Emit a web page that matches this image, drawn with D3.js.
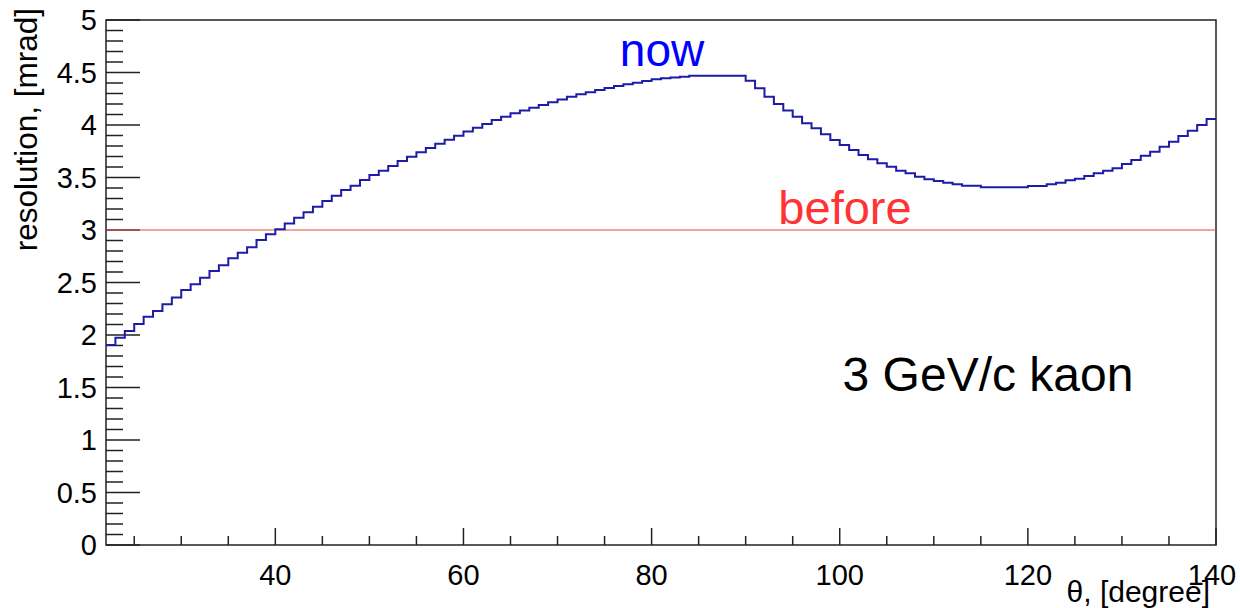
<!DOCTYPE html>
<html>
<head>
<meta charset="utf-8">
<script src="https://cdn.jsdelivr.net/npm/d3@7"></script>
<style>
  html, body { margin: 0; padding: 0; background: #fff; }
  svg text { font-family: "Liberation Sans", Arial, Helvetica, sans-serif; }
</style>
</head>
<body>
<div id="chart"></div>
<script>
// histogram: theta from 22 to 140 degree, 1 degree bins
const binEdges = d3.range(22, 141, 1);
const resolution = [
  1.905, 1.974, 2.038, 2.105, 2.175, 2.229, 2.292, 2.356, 2.429, 2.483,
  2.546, 2.610, 2.664, 2.730, 2.784, 2.835, 2.905, 2.959, 3.006, 3.063,
  3.117, 3.168, 3.222, 3.276, 3.327, 3.381, 3.422, 3.476, 3.524, 3.565,
  3.610, 3.657, 3.698, 3.740, 3.781, 3.822, 3.860, 3.898, 3.937, 3.975,
  4.010, 4.048, 4.079, 4.111, 4.137, 4.165, 4.190, 4.216, 4.244, 4.270,
  4.292, 4.311, 4.333, 4.352, 4.371, 4.387, 4.403, 4.419, 4.435, 4.445,
  4.452, 4.460, 4.470, 4.470, 4.470, 4.470, 4.470, 4.470, 4.422, 4.349,
  4.270, 4.200, 4.137, 4.079, 4.016, 3.968, 3.911, 3.857, 3.810, 3.762,
  3.714, 3.673, 3.635, 3.603, 3.565, 3.540, 3.508, 3.483, 3.467, 3.451,
  3.435, 3.422, 3.422, 3.406, 3.406, 3.406, 3.406, 3.406, 3.419, 3.420,
  3.435, 3.451, 3.473, 3.489, 3.514, 3.540, 3.565, 3.587, 3.629, 3.667,
  3.708, 3.746, 3.794, 3.841, 3.895, 3.946, 4.000, 4.057
];
const beforeValue = 3;
const xTicks = [40, 60, 80, 100, 120, 140];
const yTicks = [0, 0.5, 1, 1.5, 2, 2.5, 3, 3.5, 4, 4.5, 5];

const width = 1240, height = 608;
const m = {left: 106, right: 24, top: 20, bottom: 63};

const svg = d3.select('#chart').append('svg')
  .attr('width', width)
  .attr('height', height);

const x = d3.scaleLinear().domain([22, 140]).range([m.left, width - m.right]);
const y = d3.scaleLinear().domain([0, 5]).range([height - m.bottom, m.top]);

const axisColor = '#000';

// frame
svg.append('rect')
  .attr('x', x(22)).attr('y', y(5))
  .attr('width', x(140) - x(22)).attr('height', y(0) - y(5))
  .attr('fill', 'none').attr('stroke', '#222').attr('stroke-width', 1.5);

// x axis ticks (inward)
const xMinor = d3.range(25, 140, 5).filter(v => v % 20 !== 0);
svg.append('g').selectAll('line').data(xMinor).enter().append('line')
  .attr('x1', d => x(d)).attr('x2', d => x(d))
  .attr('y1', y(0)).attr('y2', y(0) - 9)
  .attr('stroke', '#222').attr('stroke-width', 1.5);
svg.append('g').selectAll('line').data(xTicks).enter().append('line')
  .attr('x1', d => x(d)).attr('x2', d => x(d))
  .attr('y1', y(0)).attr('y2', y(0) - 17)
  .attr('stroke', '#222').attr('stroke-width', 1.5);
svg.append('g').selectAll('text').data(xTicks).enter().append('text')
  .attr('x', d => d === 140 ? x(d) - 4 : x(d)).attr('y', 585)
  .attr('text-anchor', 'middle')
  .attr('font-size', 29)
  .attr('fill', axisColor)
  .text(d => d);

// y axis ticks (inward)
const yMinor = d3.range(0, 50, 1).map(v => v / 10).filter((v, i) => i % 5 !== 0);
svg.append('g').selectAll('line').data(yMinor).enter().append('line')
  .attr('x1', x(22)).attr('x2', x(22) + 17)
  .attr('y1', d => y(d)).attr('y2', d => y(d))
  .attr('stroke', '#222').attr('stroke-width', 1.5);
svg.append('g').selectAll('line').data(yTicks).enter().append('line')
  .attr('x1', x(22)).attr('x2', x(22) + 34)
  .attr('y1', d => y(d)).attr('y2', d => y(d))
  .attr('stroke', '#222').attr('stroke-width', 1.5);
svg.append('g').selectAll('text').data(yTicks).enter().append('text')
  .attr('x', 97).attr('y', d => y(d) + 10)
  .attr('text-anchor', 'end')
  .attr('font-size', 29)
  .attr('fill', axisColor)
  .text(d => d);

// axis titles
svg.append('text')
  .attr('x', 1210).attr('y', 602)
  .attr('text-anchor', 'end')
  .attr('font-size', 30)
  .text('θ, [degree]');
svg.append('text')
  .attr('transform', 'translate(37,8) rotate(-90)')
  .attr('text-anchor', 'end')
  .attr('font-size', 31.5)
  .text('resolution, [mrad]');

// "before" reference line
svg.append('line')
  .attr('x1', x(22)).attr('x2', x(140))
  .attr('y1', y(beforeValue)).attr('y2', y(beforeValue))
  .attr('stroke', '#f24646').attr('stroke-width', 1.2);

// histogram outline
const pts = resolution.map((v, i) => [binEdges[i], v]);
pts.push([binEdges[binEdges.length - 1], resolution[resolution.length - 1]]);
const line = d3.line()
  .x(d => x(d[0]))
  .y(d => y(d[1]))
  .curve(d3.curveStepAfter);
svg.append('path')
  .attr('d', line(pts))
  .attr('fill', 'none')
  .attr('stroke', '#1c1ca6')
  .attr('stroke-width', 2);

// labels
svg.append('text')
  .attr('x', 662).attr('y', 66)
  .attr('text-anchor', 'middle')
  .attr('font-size', 46)
  .attr('fill', '#0000ff')
  .text('now');
svg.append('text')
  .attr('x', 845).attr('y', 224)
  .attr('text-anchor', 'middle')
  .attr('font-size', 47)
  .attr('fill', '#ff3333')
  .text('before');
svg.append('text')
  .attr('x', 988).attr('y', 391)
  .attr('text-anchor', 'middle')
  .attr('font-size', 48)
  .attr('fill', '#000')
  .text('3 GeV/c kaon');
</script>
</body>
</html>
